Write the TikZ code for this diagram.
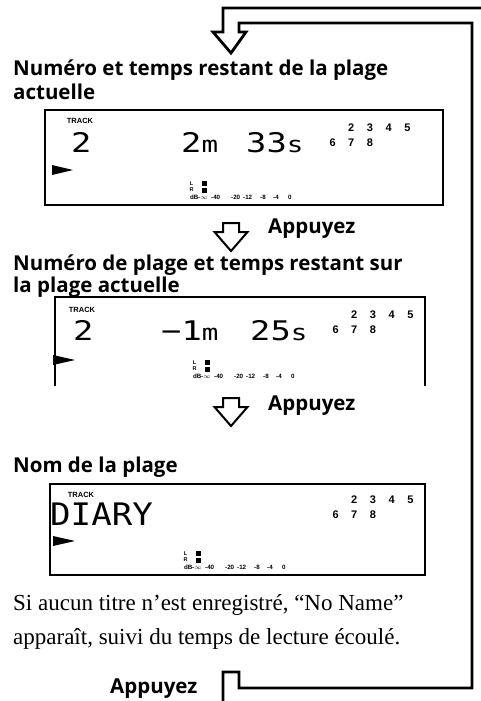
\documentclass[tikz,border=0pt]{standalone}
\usepackage{fontspec}
\usepackage{graphicx}
\setmainfont{Liberation Serif}
\newfontfamily\headfont{Open Sans}
\newfontfamily\lcdfont{DejaVu Sans Mono}
\newfontfamily\labelfont{Liberation Sans}

\newcommand\lcdwide[1]{\scalebox{1.25}[1]{#1}}
\newcommand\lcdunit[1]{{\lcdfont\fontsize{22}{22}\selectfont #1}}

\tikzset{
  % channel numbers on the right of each display
  chans/.pic={
    \node[chan] (-n2) at (0,0)      {2};
    \node[chan] (-n3) at (18.7,0)   {3};
    \node[chan] (-n4) at (37.4,0)   {4};
    \node[chan] (-n5) at (56.1,0)   {5};
    \node[chan] (-n6) at (-18.7,15) {6};
    \node[chan] (-n7) at (0,15)     {7};
    \node[chan] (-n8) at (18.7,15)  {8};
  },
  % level meter (L/R and dB scale)
  meter/.pic={
    \node[lvl] (-l) at (1.5,-15) {L};
    \node[lvl] (-r) at (1.5,-9)  {R};
    \fill (12,-18) rectangle (17,-13);
    \fill (12,-11) rectangle (17,-6);
    \node[dbs] (-db)  at (0,0)  {dB};
    \node[dbs] (-inf) at (8,0)  {-$\infty$};
    \node[dbs] (-m40) at (21,0) {-40};
    \node[dbs] (-m20) at (41,0) {-20};
    \node[dbs] (-m12) at (53,0) {-12};
    \node[dbs] (-m8)  at (70,0) {-8};
    \node[dbs] (-m4)  at (83,0) {-4};
    \node[dbs] (-z)   at (98,0) {0};
  },
  % hollow arrow pointing down
  pushdown/.pic={
    \draw[hollow] (-8,0) -- (-8,9) -- (-16.5,9) -- (0,28) -- (16.5,9)
                  -- (8,9) -- (8,0) -- cycle;
  }
}

\begin{document}
\begin{tikzpicture}[
  x=1pt, y=-1pt,
  title/.style={font=\headfont\bfseries\fontsize{20.5}{24}\selectfont,
                anchor=base west, inner sep=0pt},
  push/.style={title},
  note/.style={font=\fontsize{23}{26}\selectfont, anchor=base west, inner sep=0pt},
  lcdbox/.style={draw, line width=1.2pt},
  trk/.style={font=\labelfont\bfseries\fontsize{7.5}{7.5}\selectfont, inner sep=0pt},
  lcd/.style={font=\lcdfont\fontsize{27}{27}\selectfont, anchor=base west, inner sep=0pt},
  chan/.style={font=\labelfont\bfseries\fontsize{11}{11}\selectfont,
               anchor=base west, inner sep=0pt},
  lvl/.style={font=\labelfont\bfseries\fontsize{5.5}{5.5}\selectfont, inner sep=0pt},
  dbs/.style={font=\labelfont\bfseries\fontsize{6.2}{6.2}\selectfont,
              anchor=base west, inner sep=0pt},
  hollow/.style={draw, line width=2pt, line join=miter},
  loopline/.style={draw, line width=2.8pt, line join=miter}
]
\useasboundingbox (0,0) rectangle (480,701);

% ---------- boucle (retour) ----------
\draw[loopline] (223,703) -- (223,672) -- (239,672) -- (239,688) -- (472,688)
      -- (472,23) -- (239,23) -- (239,32) -- (246,32) -- (231,53) -- (213,32)
      -- (223,32) -- (223,8) -- (484,8);

% ---------- affichage 1 ----------
\node[title] (t1a) at (13,75) {Numéro et temps restant de la plage};
\node[title] (t1b) at (13,99) {actuelle};
\draw[lcdbox] (45,110) rectangle (443,205);
\node[trk] (trk1) at (80,121) {TRACK};
\node[lcd] (num1) at (71,152)  {\lcdwide{2}};
\node[lcd] (min1) at (181,152) {\lcdwide{2\lcdunit{m}}};
\node[lcd] (sec1) at (246,152) {\lcdwide{33\lcdunit{s}}};
\pic (ch1) at (348,131) {chans};
\fill (52,165) -- (73,170) -- (52,175) -- cycle;
\pic (mt1) at (190,199) {meter};

% ---------- appuyez 1 ----------
\pic (pd1) at (231,223) {pushdown};
\node[push] (ap1) at (268,233) {Appuyez};

% ---------- affichage 2 ----------
\node[title] (t2a) at (13,270) {Numéro de plage et temps restant sur};
\node[title] (t2b) at (13,292) {la plage actuelle};
\draw[lcdbox] (55,386) -- (55,297) -- (425,297) -- (425,386);
\node[trk] (trk2) at (82,310) {TRACK};
\node[lcd] (num2) at (73,340)  {\lcdwide{2}};
\node[lcd] (min2) at (161,340) {\lcdwide{−1\lcdunit{m}}};
\node[lcd] (sec2) at (250,340) {\lcdwide{25\lcdunit{s}}};
\pic (ch2) at (351,318) {chans};
\fill (53,355) -- (75,360) -- (53,365) -- cycle;
\pic (mt2) at (193,378) {meter};

% ---------- appuyez 2 ----------
\pic (pd2) at (231,398) {pushdown};
\node[push] (ap2) at (268,410) {Appuyez};

% ---------- affichage 3 ----------
\node[title] (t3) at (13,472) {Nom de la plage};
\draw[lcdbox] (50,484) rectangle (425,575);
\node[trk] (trk3) at (81,495) {TRACK};
\node[lcd, font=\lcdfont\fontsize{31}{31}\selectfont] (name3) at (50,525)
      {\scalebox{1.1}[1]{DIARY}};
\pic (ch3) at (351,503) {chans};
\fill (53,536) -- (75,541) -- (53,546) -- cycle;
\pic (mt3) at (184,569) {meter};

% ---------- note ----------
\node[note] (n1) at (13,610) {Si aucun titre n’est enregistré, “No Name”};
\node[note] (n2) at (13,644) {apparaît, suivi du temps de lecture écoulé.};

% ---------- appuyez 3 ----------
\node[push] (ap3) at (110,693) {Appuyez};

\end{tikzpicture}
\end{document}
